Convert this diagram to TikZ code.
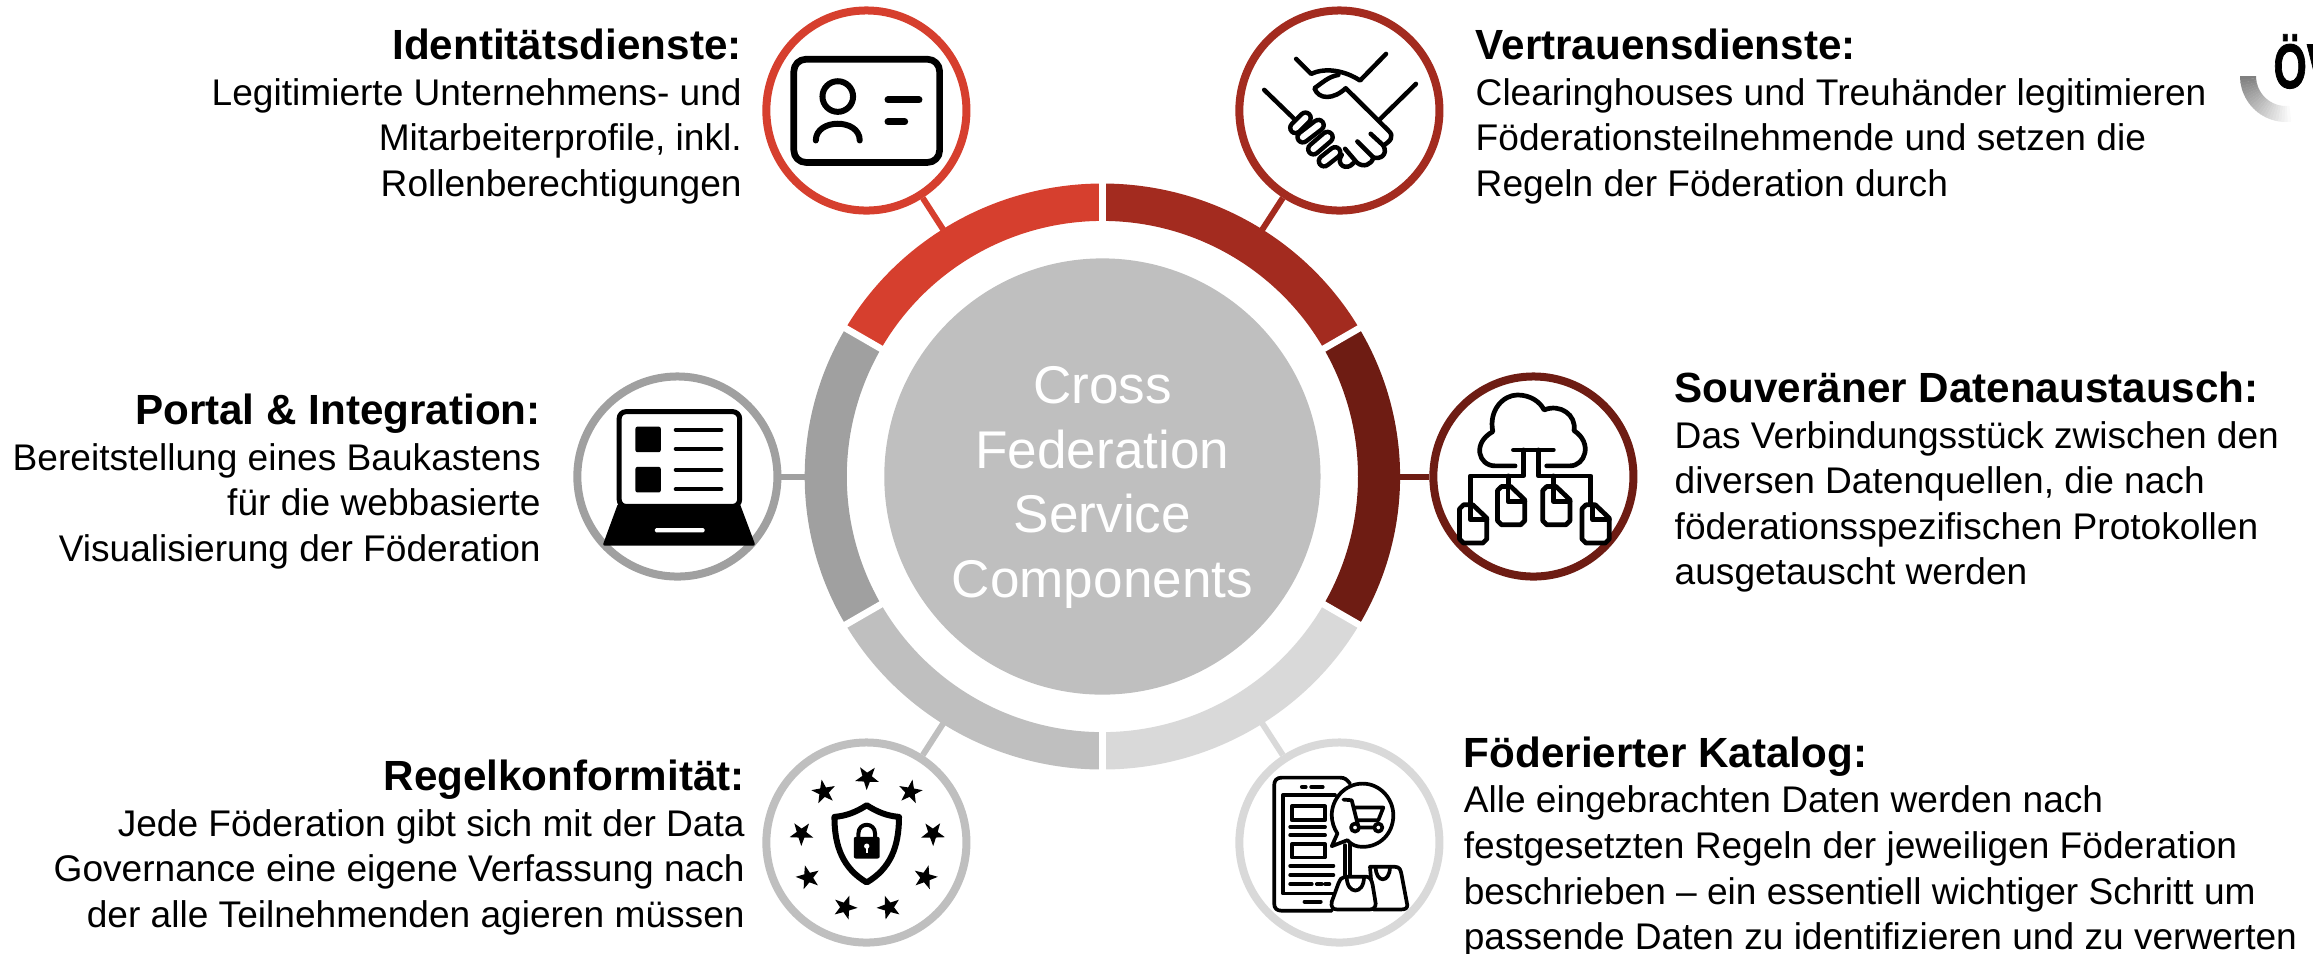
\documentclass[tikz,border=0pt]{standalone}
\usepackage{fontspec}
\setmainfont{Liberation Sans}
\newfontfamily\logofont[UprightFont=* Bold,FakeBold=1.5]{Liberation Sans}
\usetikzlibrary{shapes.geometric}

\definecolor{redid}{HTML}{D63F2E}
\definecolor{redtrust}{HTML}{A32B1F}
\definecolor{redexchange}{HTML}{6E1C13}
\definecolor{graycatalog}{HTML}{D9D9D9}
\definecolor{grayrules}{HTML}{BFBFBF}
\definecolor{grayportal}{HTML}{A0A0A0}

\tikzset{
  badge/.style={circle,draw=#1,line width=0.08cm,fill=white,minimum size=2cm,inner sep=0pt},
  link/.style={draw=#1,line width=0.06cm},
  infotext/.style={inner sep=0pt,font=\fontsize{10.55}{12.95}\selectfont},
  iconin/.style n args={3}{shift={(#1)},x=.0033333cm,y=-.0033333cm,shift={(-#2,-#3)}},
  iconline/.style={line width=#1,line cap=round,line join=round},
  flagstar/.style={star,star points=5,star point ratio=2.5,fill=black,inner sep=0pt,minimum size=0.25cm},
}
\newcommand{\headline}[1]{{\bfseries\fontsize{12}{12.95}\selectfont #1}}

\begin{document}
\begin{tikzpicture}[x=0.01cm,y=0.01cm]
        \useasboundingbox (-1102.4,-476.5) rectangle (1210.6,476.5);

        \node[circle,minimum size=5.53cm,inner sep=0pt] (ring) at (0,0) {};

        % badges
        \node[badge=redid] (id) at (-236,366) {};
        \node[badge=redtrust] (trust) at (237,366) {};
        \node[badge=redexchange] (exchange) at (431,0) {};
        \node[badge=graycatalog] (catalog) at (237,-366) {};
        \node[badge=grayrules] (rules) at (-236,-366) {};
        \node[badge=grayportal] (portal) at (-425,0) {};

        % connectors
        \draw[link=redid] (ring) -- (id);
        \draw[link=redtrust] (ring) -- (trust);
        \draw[link=redexchange] (ring) -- (exchange);
        \draw[link=graycatalog] (ring) -- (catalog);
        \draw[link=grayrules] (ring) -- (rules);
        \draw[link=grayportal] (ring) -- (portal);

        % ring
        \foreach \a/\b/\c in {90/150/redid,30/90/redtrust,-30/30/redexchange,-90/-30/graycatalog,-150/-90/grayrules,150/210/grayportal}{
            \fill[\c] (\a:297.7 and 293) arc[start angle=\a,end angle=\b,x radius=297.7,y radius=293] -- (\b:255.6) arc (\b:\a:255.6) -- cycle;
        }
        \foreach \a in {30,90,150}{
            \draw[white,line width=0.067cm] (\a:310) -- (\a+180:310);
        }

        % hub
        \node[circle,fill=grayrules,minimum size=4.36cm,inner sep=0pt] (hub) at (0,0) {};
        \node[text=white,align=center,font=\fontsize{15.1}{18.35}\selectfont] (hubtext) at (0,-11) {Cross\\Federation\\Service\\Components};

        % id card
        \begin{scope}[iconin={id}{410}{332}]
            \draw[iconline=0.067cm,rounded corners=0.12cm] (192,178) rectangle (630,488);
            \draw[iconline=0.06cm] (324,290) circle (46);
            \draw[iconline=0.06cm] (258,422) .. controls (258,355) and (390,355) .. (390,422);
            \draw[iconline=0.07cm] (475,300) -- (568,300);
            \draw[iconline=0.07cm] (475,366) -- (525,366);
        \end{scope}

        % handshake
        \begin{scope}[iconin={trust}{418}{332}]
            \draw[iconline=0.045cm] (192,270) -- (283,358);
            \draw[iconline=0.045cm] (648,252) -- (540,358);
            \draw[iconline=0.045cm] (288,177) -- (333,222) .. controls (380,200) and (440,215) .. (480,242) -- (558,162);
            \draw[iconline=0.045cm] (415,225) .. controls (385,230) and (365,250) .. (343,265) .. controls (355,300) and (400,300) .. (437,265) -- (565,392) .. controls (585,410) and (570,425) .. (550,437) -- (512,402);
            \draw[iconline=0.045cm] (550,437) .. controls (565,465) and (540,480) .. (520,473) -- (472,425);
            \draw[iconline=0.045cm] (520,473) .. controls (515,495) and (490,505) .. (470,488) -- (435,447);
            \draw[iconline=0.045cm] (425,465) .. controls (405,495) and (440,515) .. (460,490);
            \foreach \xa/\ya/\xb/\yb in {372/484/405/458,340/448/382/412,308/412/355/376,286/384/316/354}{
                \draw[black,line width=0.15cm,line cap=round] (\xa,\ya) -- (\xb,\yb);
                \draw[white,line width=0.06cm,line cap=round] (\xa,\ya) -- (\xb,\yb);
            }
        \end{scope}

        % cloud and files
        \begin{scope}[iconin={exchange}{400}{350}]
            \draw[iconline=0.047cm] (345,318) -- (285,318) .. controls (235,318) and (215,250) .. (278,215) .. controls (265,150) and (310,105) .. (352,105) .. controls (390,105) and (420,125) .. (432,150) .. controls (480,130) and (530,165) .. (522,212) .. controls (580,250) and (555,318) .. (510,318) -- (440,318);
            \draw[iconline=0.047cm] (340,270) -- (460,270);
            \draw[iconline=0.047cm] (370,270) -- (370,348) -- (210,348) -- (210,440);
            \draw[iconline=0.047cm] (415,270) -- (415,348) -- (572,348) -- (572,440);
            \draw[iconline=0.047cm] (325,348) -- (325,385);
            \draw[iconline=0.047cm] (460,348) -- (460,385);
            \foreach \xl/\yt in {178/435,292/380,428/380,546/435}{
                \draw[iconline=0.047cm,fill=white] (\xl+32,\yt) -- (\xl+12,\yt) -- (\xl,\yt+12) -- (\xl,\yt+103) -- (\xl+12,\yt+115) -- (\xl+70,\yt+115) -- (\xl+82,\yt+103) -- (\xl+82,\yt+40) -- (\xl+40,\yt) -- cycle;
                \draw[iconline=0.047cm] (\xl+32,\yt) -- (\xl+32,\yt+45) -- (\xl+82,\yt+45);
            }
        \end{scope}

        % catalog
        \begin{scope}[iconin={catalog}{388}{367}]
            \draw[iconline=0.037cm] (420,190) .. controls (410,178) and (405,172) .. (390,172) -- (215,172) .. controls (200,172) and (192,180) .. (192,195) -- (192,550) .. controls (192,565) and (200,572) .. (215,572) -- (365,572);
            \draw[iconline=0.037cm] (375,225) -- (218,225) -- (218,520) -- (378,520);
            \draw[iconline=0.037cm] (275,200) -- (287,200) (303,200) -- (338,200) (283,545) -- (332,545);
            \draw[iconline=0.037cm] (245,258) rectangle (345,300) (245,372) rectangle (345,412);
            \draw[iconline=0.037cm] (240,320) -- (345,320) (240,345) -- (345,345);
            \draw[iconline=0.037cm] (240,437) -- (370,437) (240,465) -- (370,465) (240,492) -- (305,492) (320,492) -- (335,492) (345,492) -- (358,492);
            \draw[iconline=0.037cm] (405,375) -- (405,465) (420,368) -- (420,465);
            \draw[iconline=0.037cm,fill=white] (458,190) .. controls (405,190) and (365,235) .. (365,285) .. controls (365,305) and (372,325) .. (382,340) -- (365,378) -- (412,360) .. controls (425,375) and (440,380) .. (458,380) .. controls (510,380) and (550,340) .. (550,285) .. controls (550,235) and (510,190) .. (458,190) -- cycle;
            \draw[iconline=0.037cm] (400,238) -- (425,240) -- (445,320) (430,262) -- (520,262) -- (505,300) -- (440,300) (435,322) -- (505,322);
            \draw[iconline=0.037cm,fill=white] (435,322) circle (12) (505,322) circle (12);
            \draw[iconline=0.037cm,fill=white] (480,440) -- (555,440) .. controls (570,440) and (572,450) .. (575,465) -- (592,555) .. controls (592,565) and (585,568) .. (575,568) -- (490,568) -- cycle;
            \draw[iconline=0.037cm] (497,440) .. controls (497,490) and (540,490) .. (540,440);
            \draw[iconline=0.037cm,fill=white] (405,470) -- (470,470) .. controls (480,470) and (485,480) .. (488,495) -- (497,550) .. controls (497,562) and (490,568) .. (480,568) -- (380,568) .. controls (368,568) and (362,560) .. (365,545) -- (385,490) .. controls (390,478) and (395,470) .. (405,470) -- cycle;
            \draw[iconline=0.037cm] (410,470) .. controls (410,525) and (462,525) .. (462,470);
        \end{scope}

        % shield and stars
        \begin{scope}[iconin={rules}{380}{367}]
            \foreach \xs/\ys/\rs [count=\i] in {382/172/178,252/215/10,512/215/-10,185/340/35,580/340/-35,205/472/15,557/472/-15,316/562/-20,448/562/20}{
                \node[flagstar,rotate=\rs] (star\i) at (\xs,\ys) {};
            }
            \draw[iconline=0.06cm] (381,255) .. controls (350,275) and (320,287) .. (284,290) .. controls (284,380) and (310,445) .. (381,487) .. controls (452,445) and (478,380) .. (478,290) .. controls (442,287) and (412,275) .. (381,255) -- cycle;
            \draw[iconline=0.04cm] (356,352) -- (356,340) .. controls (356,305) and (406,305) .. (406,340) -- (406,352);
            \fill[black,rounded corners=0.02cm] (342,350) rectangle (420,415);
            \fill[white] (381,378) circle (8);
            \draw[white,line width=0.017cm] (381,378) -- (381,398);
        \end{scope}

        % laptop
        \begin{scope}[iconin={portal}{383}{350}]
            \fill[black,rounded corners=0.025cm] (205,430) -- (570,430) -- (618,558) -- (158,558) -- cycle;
            \draw[line width=0.05cm,fill=white,rounded corners=0.07cm] (208,155) rectangle (570,440);
            \fill[white,rounded corners=0.015cm] (315,505) rectangle (465,518);
            \fill[black,rounded corners=0.02cm] (257,200) rectangle (333,277);
            \fill[black,rounded corners=0.02cm] (257,321) rectangle (333,398);
            \foreach \yl in {210,267,330,388}{
                \draw[iconline=0.04cm] (378,\yl) -- (515,\yl);
            }
        \end{scope}

        % texts
        \node[infotext,anchor=north east,align=right] (idtext) at (-360,448) {\headline{Identitätsdienste:}\\Legitimierte Unternehmens- und\\Mitarbeiterprofile, inkl.\\Rollenberechtigungen};
        \node[infotext,anchor=north west,align=left] (trusttext) at (372.6,448) {\headline{Vertrauensdienste:}\\Clearinghouses und Treuhänder legitimieren\\Föderationsteilnehmende und setzen die\\Regeln der Föderation durch};
        \node[infotext,anchor=north west,align=left] (exchangetext) at (571.6,105) {\headline{Souveräner Datenaustausch:}\\Das Verbindungsstück zwischen den\\diversen Datenquellen, die nach\\föderationsspezifischen Protokollen\\ausgetauscht werden};
        \node[infotext,anchor=north east,align=right] (portaltext) at (-561,83) {\headline{Portal \& Integration:}\\Bereitstellung eines Baukastens\\für die webbasierte\\Visualisierung der Föderation};
        \node[infotext,anchor=north east,align=right] (rulestext) at (-357,-283) {\headline{Regelkonformität:}\\Jede Föderation gibt sich mit der Data\\Governance eine eigene Verfassung nach\\der alle Teilnehmenden agieren müssen};
        \node[infotext,anchor=north west,align=left] (catalogtext) at (360.7,-259.6) {\headline{Föderierter Katalog:}\\Alle eingebrachten Daten werden nach\\festgesetzten Regeln der jeweiligen Föderation\\beschrieben – ein essentiell wichtiger Schritt um\\passende Daten zu identifizieren und zu verwerten};

        % logo, cut off by the page edge
        \node[inner sep=0pt,anchor=base west,xscale=.68,font=\logofont\fontsize{17.9}{18}\selectfont] (logo) at (1170.6,388.5) {ÖV};
        \begin{scope}[shift={(1183.6,400.5)}]
            \foreach \a [evaluate=\a as \s using (276-\a)*0.52,evaluate=\a as \b using \a+4.5] in {180,184,...,272}{
                \fill[black!\s] (\a:46) arc (\a:\b:46) -- (\b:30) arc (\b:\a:30) -- cycle;
            }
        \end{scope}
    \end{tikzpicture}
\end{document}
